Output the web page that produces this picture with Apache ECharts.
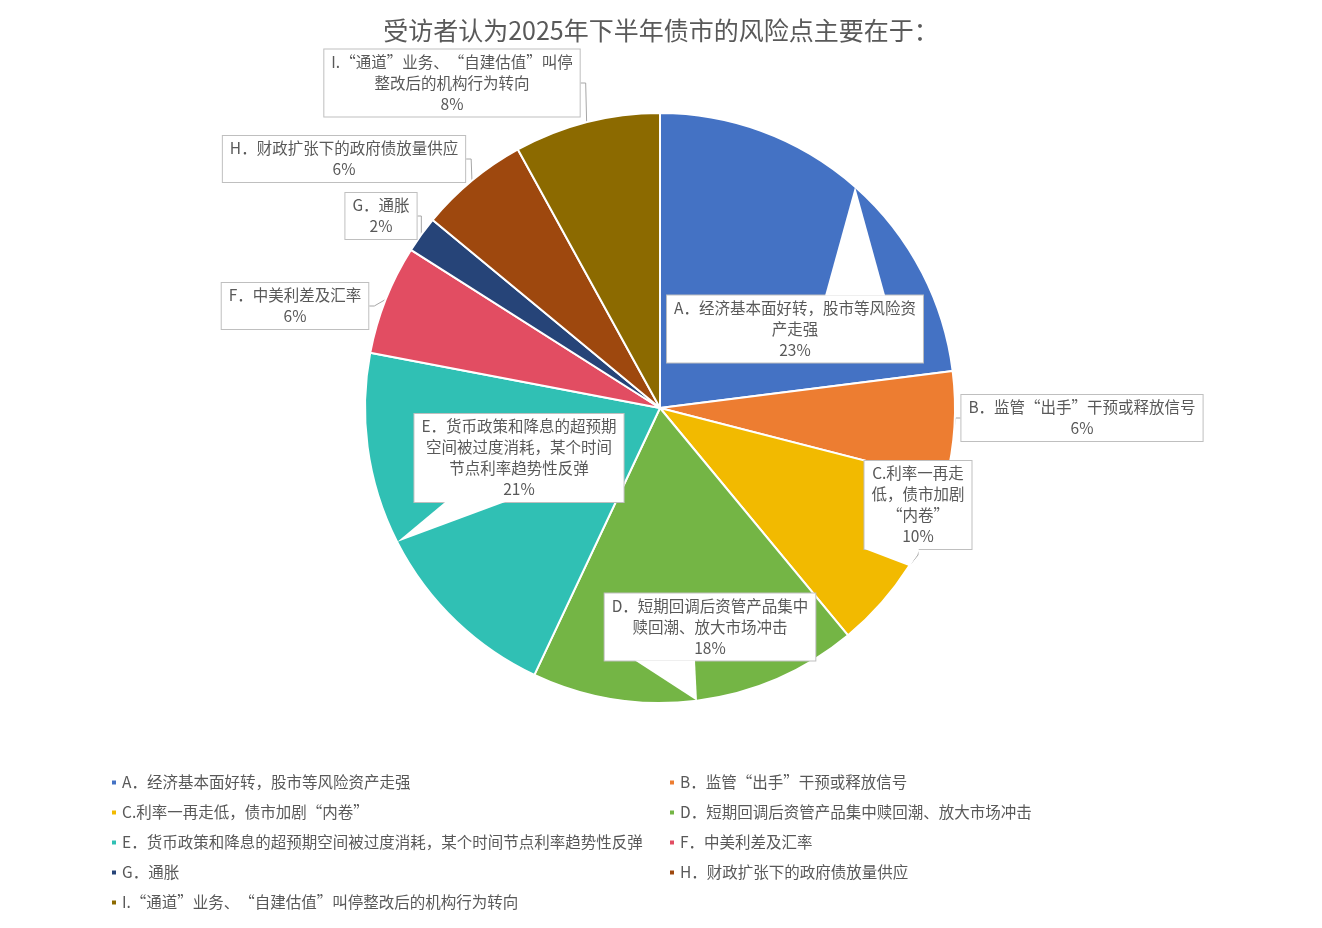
<!DOCTYPE html>
<html lang="zh-CN">
<head>
<meta charset="utf-8">
<title>债市风险点</title>
<script src="https://cdn.jsdelivr.net/npm/echarts@6/dist/echarts.min.js"></script>
<style>
  html, body { margin: 0; padding: 0; background: #fff; }
  #main { width: 1322px; height: 928px; }
</style>
</head>
<body>
<div id="main"></div>
<script>
// 类别名称（图例文字）
var categories = [
  'A．经济基本面好转，股市等风险资产走强',
  'B．监管“出手”干预或释放信号',
  'C.利率一再走低，债市加剧“内卷”',
  'D．短期回调后资管产品集中赎回潮、放大市场冲击',
  'E．货币政策和降息的超预期空间被过度消耗，某个时间节点利率趋势性反弹',
  'F．中美利差及汇率',
  'G．通胀',
  'H．财政扩张下的政府债放量供应',
  'I.“通道”业务、“自建估值”叫停整改后的机构行为转向'
];
// 百分比
var values = [23, 6, 10, 18, 21, 6, 2, 6, 8];
// 数据标签上的文字（含换行）
var labelTexts = [
  'A．经济基本面好转，股市等风险资\n产走强',
  'B．监管“出手”干预或释放信号',
  'C.利率一再走\n低，债市加剧\n“内卷”',
  'D．短期回调后资管产品集中\n赎回潮、放大市场冲击',
  'E．货币政策和降息的超预期\n空间被过度消耗，某个时间\n节点利率趋势性反弹',
  'F．中美利差及汇率',
  'G．通胀',
  'H．财政扩张下的政府债放量供应',
  'I.“通道”业务、“自建估值”叫停\n整改后的机构行为转向'
];

var colors = ['#4472C4', '#ED7D31', '#F2BA00', '#74B545', '#30C0B4', '#E24D62', '#264478', '#9E480E', '#8C6A00'];
// 标签框中心位置
var labelPos = [[795, 329], [1082, 418], [918, 505], [710, 627], [519, 458], [295, 306], [381, 216], [344, 159], [452, 83]];
// 引导线 / 气泡尾巴（null 表示没有尾巴，数字为尾巴底边相对尖端的水平偏移）
var showLine = [false, true, true, false, false, true, true, true, true];
var tailShift = [0, null, -24, -32, 78, null, null, null, null];

var center = [660, 408];
var radius = 295;
var textColor = '#595959';
var font = '"Noto Sans CJK SC", "Microsoft YaHei", sans-serif';

var chart = echarts.init(document.getElementById('main'));

var pieData = categories.map(function (name, i) {
  return {
    name: name,
    value: values[i],
    itemStyle: { color: colors[i] },
    labelLine: { show: showLine[i] }
  };
});

var leftNames = categories.filter(function (n, i) { return i % 2 === 0; });
var rightNames = categories.filter(function (n, i) { return i % 2 === 1; });

var legendCommon = {
  orient: 'vertical',
  top: 774,
  padding: 0,
  itemWidth: 6,
  itemHeight: 6,
  itemGap: 13,
  icon: 'rect',
  textStyle: { color: textColor, fontSize: 15.5, fontFamily: font, lineHeight: 17 }
};

var labelRects = {};

chart.setOption({
  textStyle: { fontFamily: font },
  title: {
    text: '受访者认为2025年下半年债市的风险点主要在于：',
    left: 'center',
    top: 13,
    textStyle: { color: textColor, fontSize: 25, fontWeight: 'normal', fontFamily: font }
  },
  legend: [
    Object.assign({ left: 110, data: leftNames }, legendCommon),
    Object.assign({ left: 668, data: rightNames }, legendCommon)
  ],
  series: [{
    type: 'pie',
    center: center,
    radius: radius,
    startAngle: 90,
    clockwise: true,
    avoidLabelOverlap: false,
    itemStyle: { borderColor: '#fff', borderWidth: 2 },
    label: {
      show: true,
      position: 'outside',
      formatter: function (p) {
        return labelTexts[p.dataIndex] + '\n' + p.value + '%';
      },
      color: textColor,
      fontSize: 15.5,
      lineHeight: 21,
      fontFamily: font,
      align: 'center',
      backgroundColor: '#fff',
      borderColor: '#bfbfbf',
      borderWidth: 1,
      padding: [2, 7, 2, 7]
    },
    labelLine: {
      show: true,
      length: 5,
      length2: 5,
      lineStyle: { color: '#a6a6a6', width: 1 }
    },
    labelLayout: function (params) {
      var p = labelPos[params.dataIndex];
      var r = params.labelRect;
      labelRects[params.dataIndex] = {
        x: p[0] - r.width / 2, y: p[1] - r.height / 2, width: r.width, height: r.height
      };
      return { x: p[0], y: p[1], align: 'center', verticalAlign: 'middle' };
    },
    emphasis: { disabled: true },
    data: pieData
  }]
});

// 气泡标签的尾巴：指向扇区中线与圆周的交点
var total = values.reduce(function (a, b) { return a + b; }, 0);
var tails = [];
var acc = 0;
values.forEach(function (v, i) {
  var mid = (acc + v / 2) / total * Math.PI * 2;
  acc += v;
  if (tailShift[i] === null || !labelRects[i]) return;
  var tip = [center[0] + radius * Math.sin(mid), center[1] - radius * Math.cos(mid)];
  var b = labelRects[i];
  var half = Math.min(30, b.width / 4);
  var ey = tip[1] < b.y ? b.y + 1 : b.y + b.height - 1;
  var cx = tip[0] + tailShift[i];
  cx = Math.min(Math.max(cx, b.x + half + 1), b.x + b.width - half - 1);
  tails.push({
    type: 'polygon', z: 10,
    shape: { points: [[cx - half, ey], tip, [cx + half, ey]] },
    style: { fill: '#fff', stroke: 'none' }
  });
});
chart.setOption({ graphic: tails });
</script>
</body>
</html>
